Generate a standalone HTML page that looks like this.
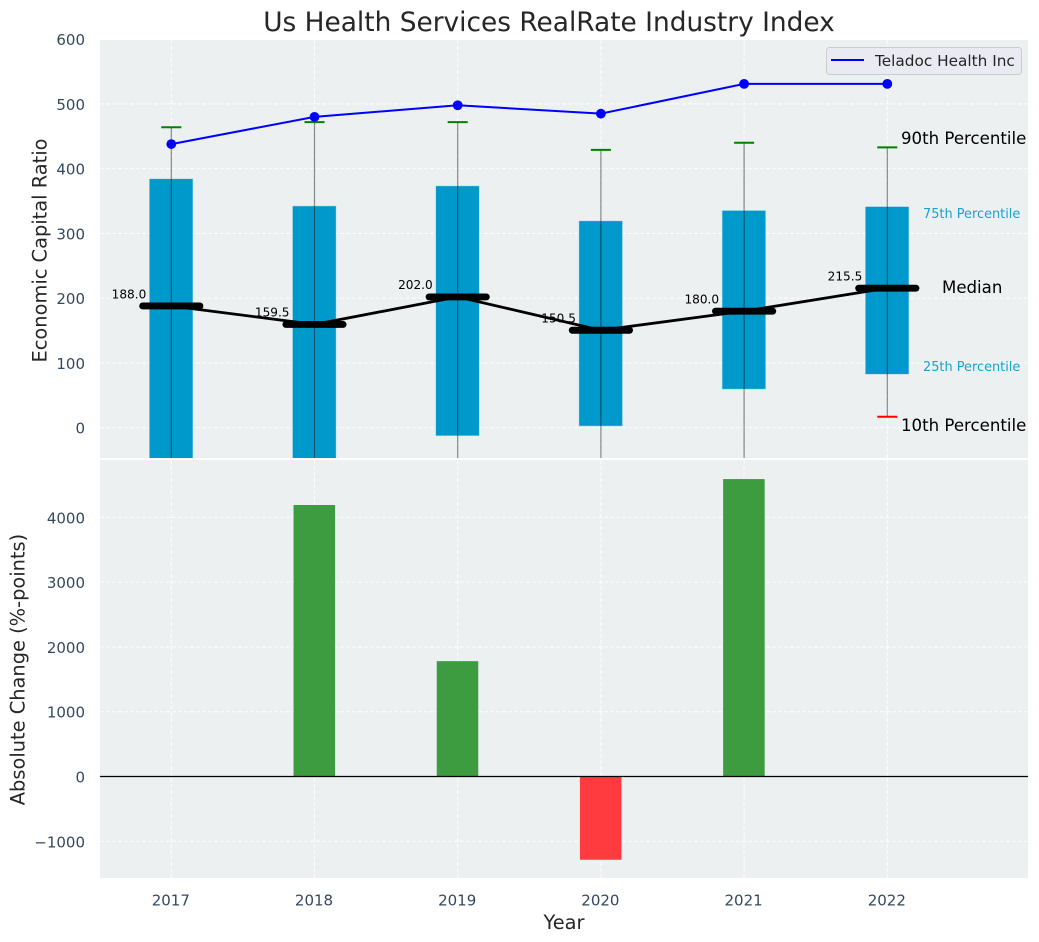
<!DOCTYPE html>
<html>
<head>
<meta charset="utf-8">
<title>Us Health Services RealRate Industry Index</title>
<style>
html,body{margin:0;padding:0;background:#fff;}
svg{display:block;font-family:"DejaVu Sans","Liberation Sans",sans-serif;}
</style>
</head>
<body>
<svg id="chart" xmlns="http://www.w3.org/2000/svg" width="1039" height="942" viewBox="0 0 1039 942">
  <defs>
    <clipPath id="clip-top"><rect x="100" y="40" width="928" height="418"></rect></clipPath>
    <clipPath id="clip-bottom"><rect x="100" y="460" width="928" height="418"></rect></clipPath>
  </defs>
  <rect x="100" y="40" width="928" height="418" fill="#ecf0f1"></rect>
  <rect x="100" y="460" width="928" height="418" fill="#ecf0f1"></rect>
  <g id="top-grid" clip-path="url(#clip-top)"></g>
  <g id="bottom-grid" clip-path="url(#clip-bottom)"></g>
  <g id="top-marks" clip-path="url(#clip-top)"></g>
  <g id="bottom-marks" clip-path="url(#clip-bottom)"></g>
  <g id="tick-labels"></g>

  <text x="549" y="31" text-anchor="middle" font-size="26.4px" fill="#262626">Us Health Services RealRate Industry Index</text>
  <text transform="translate(46.5,250.5) rotate(-90)" text-anchor="middle" font-size="19.4px" fill="#262626">Economic Capital Ratio</text>
  <text transform="translate(24.5,669.5) rotate(-90)" text-anchor="middle" font-size="19.4px" fill="#262626">Absolute Change (%-points)</text>
  <text x="564" y="929" text-anchor="middle" font-size="19.4px" fill="#262626">Year</text>

  <g>
    <rect x="826.5" y="47.5" width="195" height="27" rx="3" fill="#eaeaf2" fill-opacity="0.85" stroke="#cccccc"></rect>
    <line x1="831" x2="864" y1="60" y2="60" stroke="#0000ff" stroke-width="2"></line>
    <text x="875" y="66" font-size="15.3px" fill="#262626">Teladoc Health Inc</text>
  </g>

  <text x="901" y="144" font-size="16.6px" fill="#000">90th Percentile</text>
  <text x="923" y="218" font-size="12.9px" fill="#0099cc" fill-opacity="0.9">75th Percentile</text>
  <text x="942" y="293" font-size="16.6px" fill="#000">Median</text>
  <text x="923" y="371" font-size="12.9px" fill="#0099cc" fill-opacity="0.9">25th Percentile</text>
  <text x="901" y="431" font-size="16.6px" fill="#000">10th Percentile</text>
</svg>
<script>
var years = [2017, 2018, 2019, 2020, 2021, 2022];
var p90 = [464, 472, 472, 429, 440, 433];
var p75 = [384, 342, 373, 319, 335, 341];
var medians = [188.0, 159.5, 202.0, 150.5, 180.0, 215.5];
var p25 = [-80, -60, -12, 3, 60, 83];
var p10 = [-200, -180, -150, -120, -110, 17];
var companyValues = [438, 480, 498, 485, 531, 531];
var absoluteChange = [0, 4190, 1780, -1285, 4590, 0];
var topTicks = [0, 100, 200, 300, 400, 500, 600];
var bottomTicks = [-1000, 0, 1000, 2000, 3000, 4000];

var NS = 'http://www.w3.org/2000/svg';
function xScale(year) { return 171.3 + (year - 2017) * 143.2; }
function yTop(value) { return 427.7 - value * 0.6475; }
function yBottom(value) { return 776.5 - value * 0.0648; }
function make(tag, parent, attrs) {
  var el = document.createElementNS(NS, tag);
  for (var k in attrs) { el.setAttribute(k, attrs[k]); }
  parent.appendChild(el);
  return el;
}
var topGrid = document.getElementById('top-grid');
var bottomGrid = document.getElementById('bottom-grid');
var topMarks = document.getElementById('top-marks');
var bottomMarks = document.getElementById('bottom-marks');
var tickLabels = document.getElementById('tick-labels');
function gridAttrs(x1, y1, x2, y2) {
  return { x1: x1, y1: y1, x2: x2, y2: y2, stroke: '#ffffff', 'stroke-opacity': 0.8, 'stroke-width': 1.1, 'stroke-dasharray': '4 2' };
}

topTicks.forEach(function (t) {
  var g = make('line', topGrid, gridAttrs(100, yTop(t), 1028, yTop(t)));
  
  
  var l = make('text', tickLabels, { x: 85, y: yTop(t) + 6, 'text-anchor': 'end', 'font-size': '15px', fill: '#34495e' });
  l.textContent = String(t);
  
  
});
bottomTicks.forEach(function (t) {
  var g = make('line', bottomGrid, gridAttrs(100, yBottom(t), 1028, yBottom(t)));
  
  
  var l = make('text', tickLabels, { x: 85, y: yBottom(t) + 6, 'text-anchor': 'end', 'font-size': '15px', fill: '#34495e' });
  l.textContent = String(t).replace('-', '\u2212');
  
  
});
years.forEach(function (year) {
  var x = xScale(year);
  var a = make('line', topGrid, gridAttrs(x, 40, x, 458));
  
  
  var b = make('line', bottomGrid, gridAttrs(x, 460, x, 878));
  
  
  var l = make('text', tickLabels, { x: x - 0.5, y: 905.5, 'text-anchor': 'middle', 'font-size': '15px', fill: '#34495e' });
  l.textContent = String(year);
  
  
});

years.forEach(function (year, i) {
  var boxTop = yTop(p75[i]);
  var box = make('rect', topMarks, { x: xScale(year - 0.15) - 0.2, y: boxTop, width: xScale(year + 0.15) - xScale(year - 0.15), height: yTop(p25[i]) - boxTop, fill: '#0099cc', stroke: '#0099cc', 'stroke-opacity': 0.3 });
  
  
});
years.forEach(function (year, i) {
  var x = xScale(year);
  var whisker = make('line', topMarks, { x1: x, x2: x, y1: yTop(p90[i]), y2: yTop(p10[i]), stroke: '#000', 'stroke-opacity': 0.45, 'stroke-width': 1.2 });
  
  
  var capHi = make('line', topMarks, { x1: xScale(year - 0.07), x2: xScale(year + 0.07), y1: yTop(p90[i]), y2: yTop(p90[i]), stroke: '#008000', 'stroke-width': 2 });
  
  
  var capLo = make('line', topMarks, { x1: xScale(year - 0.07), x2: xScale(year + 0.07), y1: yTop(p10[i]), y2: yTop(p10[i]), stroke: '#ff0000', 'stroke-width': 2 });
  
  
});
years.forEach(function (year, i) {
  var label = make('text', topMarks, { x: xScale(year) - 25, y: yTop(medians[i]) - 7.7, 'text-anchor': 'end', 'font-size': '12.1px', fill: '#000' });
  label.textContent = medians[i].toFixed(1);
  
  
});
var medianPoints = years.map(function (year, i) { return xScale(year) + ',' + yTop(medians[i]); }).join(' ');
var medianLine = make('polyline', topMarks, { points: medianPoints, fill: 'none', stroke: '#000', 'stroke-width': 2.8 });


years.forEach(function (year, i) {
  var bar = make('line', topMarks, { x1: xScale(year - 0.2), x2: xScale(year + 0.2), y1: yTop(medians[i]), y2: yTop(medians[i]), stroke: '#000', 'stroke-width': 6.9, 'stroke-linecap': 'round' });
  
  
});
var companyPoints = years.map(function (year, i) { return xScale(year) + ',' + yTop(companyValues[i]); }).join(' ');
var companyLine = make('polyline', topMarks, { points: companyPoints, fill: 'none', stroke: '#0000ff', 'stroke-width': 2 });


years.forEach(function (year, i) {
  var dot = make('circle', topMarks, { cx: xScale(year), cy: yTop(companyValues[i]), r: 4.9, fill: '#0000ff' });
  
  
});

years.forEach(function (year, i) {
  var v = absoluteChange[i];
  if (v === 0) { return; }
  var y0 = yBottom(Math.max(v, 0));
  var y1 = yBottom(Math.min(v, 0));
  var bar = make('rect', bottomMarks, { x: xScale(year - 0.145) - 0.2, y: y0, width: xScale(year + 0.145) - xScale(year - 0.145), height: y1 - y0, fill: v > 0 ? '#3c9c3f' : '#ff3b3f' });
  
  
});
var zeroLine = make('line', bottomMarks, { x1: 100, x2: 1028, y1: yBottom(0), y2: yBottom(0), stroke: '#000', 'stroke-width': 1.3 });


</script>
</body>
</html>
